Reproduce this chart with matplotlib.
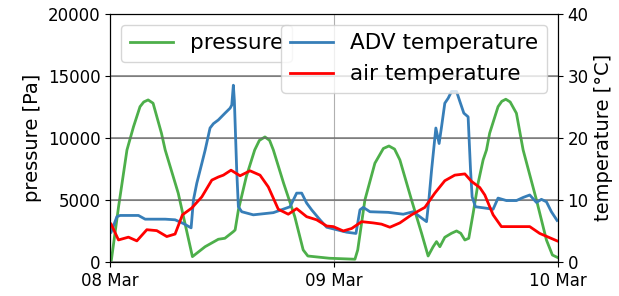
import numpy as np
import pandas as pd
import matplotlib
matplotlib.use("Agg")
import matplotlib.pyplot as plt
import matplotlib.dates as mdates

start = pd.Timestamp("2021-03-08")

# pressure [Pa], hours since start
p_hours = [0.1, 0.9, 1.8, 2.5, 3.2, 3.6, 4.07, 4.6, 5.5, 5.9, 7.3, 8.04, 8.82,
           10.18, 11.6, 12.3, 13.2, 13.4, 13.75, 14.6, 15.5, 16.0, 16.6, 17.1,
           17.5, 18.6, 19.8, 20.7, 21.2, 23.5, 26.25, 26.55, 27.32, 28.39,
           29.3, 29.9, 30.5, 31.07, 32.32, 33.4, 34.1, 34.64, 35.0, 35.36,
           35.89, 36.6, 37.15, 37.6, 38.04, 38.46, 38.93, 39.46, 40.0, 40.36,
           40.7, 41.6, 42.0, 42.43, 42.9, 43.57, 44.29, 45.72, 46.79, 47.43,
           47.93]
pressure = [0, 4460, 9030, 10900, 12520, 12900, 13065, 12800, 10380, 9030,
            5540, 3050, 430, 1230, 1830, 1910, 2440, 2580, 4190, 6880, 9030,
            9800, 10080, 9800, 9030, 6350, 3650, 970, 480, 300, 220, 970,
            5000, 7960, 9150, 9350, 9100, 8230, 5000, 2310, 480, 1230, 1640,
            1230, 1990, 2310, 2500, 2310, 1770, 1910, 3930, 6350, 8230, 9030,
            10380, 12520, 12950, 13120, 12900, 11990, 9030, 5000, 1770, 560,
            380]

# ADV temperature [°C]
adv_hours = [0.1, 0.72, 1.07, 3.03, 3.75, 5.9, 6.96, 7.85, 8.68, 8.93, 9.29,
             9.83, 10.18, 10.71, 11.07, 11.6, 12.32, 12.86, 13.04, 13.21,
             13.32, 13.57, 13.75, 14.11, 15.35, 17.5, 19.29, 20.0, 20.54,
             21.07, 21.61, 22.5, 23.22, 24.29, 25.36, 26.36, 26.79, 27.14,
             27.86, 29.82, 31.43, 32.5, 33.21, 33.93, 34.18, 34.47, 34.93,
             35.28, 35.54, 35.89, 36.25, 36.61, 37.15, 37.5, 37.93, 38.39,
             38.65, 38.82, 39.18, 40.18, 41.07, 41.6, 42.5, 43.57, 44.29,
             45.0, 45.72, 46.25, 46.79, 47.32, 47.93]
adv_temp = [4.8, 7.3, 7.5, 7.5, 6.9, 6.9, 6.8, 6.2, 5.5, 10.0, 12.7, 15.9,
            18.0, 21.6, 22.3, 22.9, 24.0, 24.8, 25.3, 28.5, 26.0, 14.8, 8.9,
            8.1, 7.6, 7.95, 8.9, 11.1, 11.1, 9.5, 8.4, 6.8, 5.6, 5.2, 4.8,
            4.6, 8.4, 8.8, 8.1, 8.0, 7.7, 8.1, 7.3, 6.5, 10.0, 14.8, 21.6,
            19.1, 21.8, 25.6, 26.4, 27.5, 27.5, 25.9, 24.0, 23.4, 14.8, 10.5,
            8.9, 8.7, 8.5, 10.3, 9.9, 9.9, 10.4, 10.8, 9.6, 10.1, 9.7, 8.1,
            6.7]

# air temperature [°C]
air_hours = [0.1, 0.89, 1.96, 2.86, 3.93, 5.0, 6.07, 6.96, 7.75, 8.75, 9.83,
             10.9, 11.6, 12.14, 12.96, 13.93, 15.0, 16.07, 16.96, 18.03,
             19.1, 20.0, 21.07, 22.14, 23.22, 23.93, 25.0, 25.9, 26.97, 28.2,
             29.1, 30.0, 31.07, 32.32, 33.75, 34.82, 35.89, 36.96, 38.04,
             38.75, 39.64, 40.18, 41.07, 41.96, 45.0, 46.07, 47.93]
air_temp = [6.1, 3.55, 4.0, 3.4, 5.2, 5.05, 4.1, 4.5, 7.6, 8.7, 10.5, 13.2,
            13.7, 14.0, 14.8, 13.9, 14.7, 14.0, 12.1, 8.5, 7.7, 8.6, 7.3,
            6.8, 5.8, 5.7, 5.0, 5.4, 6.5, 6.3, 6.1, 5.6, 6.3, 7.6, 8.8, 11.1,
            13.1, 14.0, 14.2, 13.0, 12.0, 10.8, 7.6, 5.7, 5.7, 4.6, 3.4]


def to_time(hours):
    return start + pd.to_timedelta(hours, unit="h")


fig, ax = plt.subplots(figsize=(6.19, 2.96), dpi=100)
fig.subplots_adjust(left=0.178, right=0.901, top=0.953, bottom=0.115)

ax.plot(to_time(p_hours), pressure, color="#4daf4a", lw=2, label="pressure")
ax.set_ylim(0, 20000)
ax.set_ylabel("pressure [Pa]", fontsize=14)
ax.grid(True)
ax.tick_params(labelsize=12)

ax2 = ax.twinx()
ax2.plot(to_time(adv_hours), adv_temp, color="#377eb8", lw=2,
         label="ADV temperature")
ax2.plot(to_time(air_hours), air_temp, color="red", lw=2,
         label="air temperature")
ax2.set_ylim(0, 40)
ax2.set_ylabel("temperature [°C]", fontsize=14)
ax2.grid(True, color="0.4", alpha=0.8, lw=1.2)
ax2.tick_params(labelsize=12)

ax.set_xlim(start, start + pd.Timedelta(hours=48))
ax.xaxis.set_major_locator(mdates.DayLocator())
ax.xaxis.set_major_formatter(mdates.DateFormatter("%d %b"))

ax.legend(loc="upper left", fontsize=15.5)
ax2.legend(loc="upper right", fontsize=15.5)

fig.savefig("out.png", dpi=100)
